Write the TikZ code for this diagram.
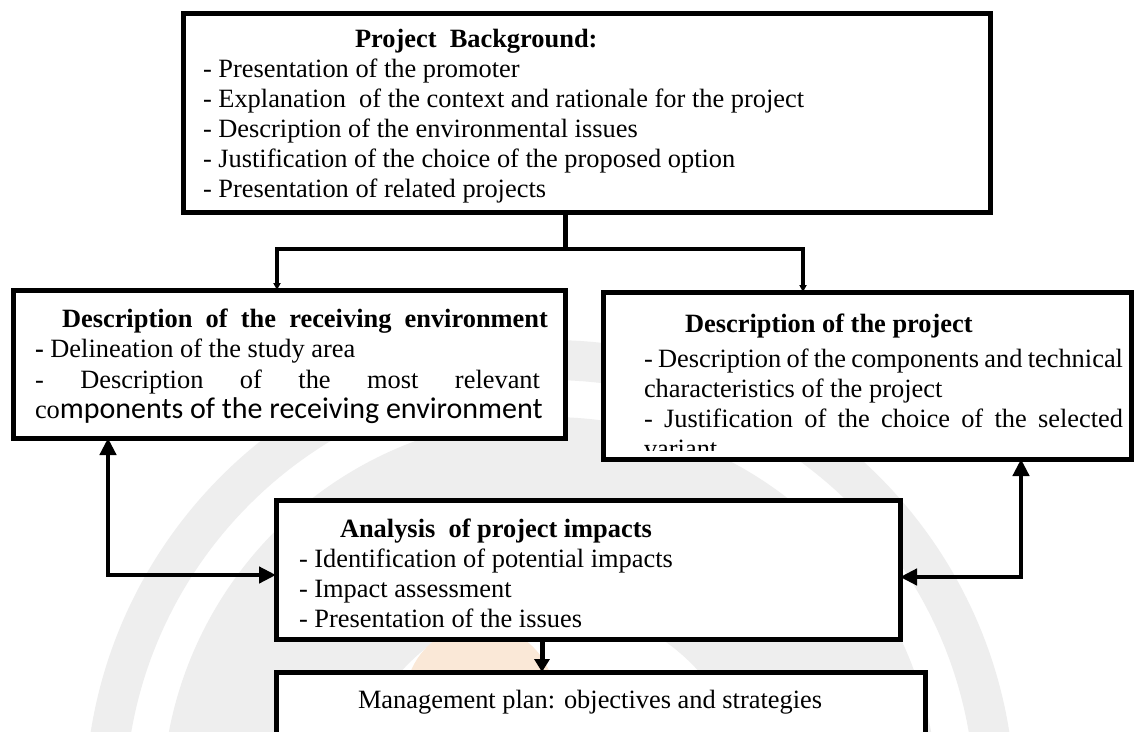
\documentclass[tikz,border=0pt]{standalone}
\usepackage{fontspec}
\setmainfont{Liberation Serif}
\newfontfamily\calibri{Carlito}
\usetikzlibrary{arrows.meta}
\begin{document}
\begin{tikzpicture}[x=1pt,y=-1pt,
  box/.style={draw=black, line width=5pt, fill=white, inner sep=0pt, outer sep=0pt, anchor=north west},
  txt/.style={anchor=base west, inner sep=0pt, outer sep=0pt, font=\fontsize{26.4}{30}\selectfont},
  ttl/.style={txt, font=\fontsize{26.4}{30}\selectfont\bfseries},
  bigarrow/.style={line width=4.5pt, {Triangle[length=17pt,width=16pt]}-{Triangle[length=17pt,width=16pt]}},
  downarrow/.style={line width=5pt, -{Triangle[length=13pt,width=15pt]}},
  stemline/.style={line width=5pt},
  branch/.style={line width=3.2pt, -{Triangle[length=7pt,width=7pt]}},
  wmark/.style={fill=gray!13},
  wpeach/.style={fill={rgb,255:red,250;green,232;blue,215}}
]
\clip (0,0) rectangle (1135,731);
\fill[white] (0,0) rectangle (1135,731);
% watermark
\fill[wmark, even odd rule] (550,805) circle[radius=465pt] (550,805) circle[radius=425pt];
\fill[wmark, even odd rule] (550,805) circle[radius=388pt] (550,805) circle[radius=200pt];
\fill[wpeach] (480,700) circle[radius=75pt];

% boxes
\node[box, minimum width=807pt, minimum height=199pt] (top) at (183,13) {};
\node[box, minimum width=552pt, minimum height=148pt] (lbox) at (13,290) {};
\node[box, minimum width=528pt, minimum height=167pt] (rbox) at (603,292) {};
\node[box, minimum width=624pt, minimum height=139pt] (ana) at (276,500) {};
\node[box, minimum width=649pt, minimum height=100pt] (mgmt) at (276,672) {};

% top box text
\node[ttl] (t0) at (355,47) {Project\ \ Background:};
\node[txt] (t1) at (203,77) {- Presentation of the promoter};
\node[txt] (t2) at (203,107) {- Explanation\ \ of the context and rationale for the project};
\node[txt] (t3) at (203,137) {- Description of the environmental issues};
\node[txt] (t4) at (203,167) {- Justification of the choice of the proposed option};
\begin{scope}
\clip (183,13) rectangle (990,203);
\node[txt] (t5) at (203,197) {- Presentation of related projects};
\end{scope}

% left box text
\node[ttl] (l0) at (62,327) {Description\ \ of\ \ the\ \ receiving\ \ environment};
\node[txt] (l1) at (35,357) {\textbf{-} Delineation of the study area};
\node[txt] (l2) at (35,388) {\makebox[505pt][s]{- Description of the most relevant}};
\node[txt] (l3) at (35,418) {co{\calibri\fontsize{30}{30}\selectfont mponents of the receiving environment}};

% right box text
\node[ttl] (r0) at (685,332) {Description of the project};
\node[txt] (r1) at (644,367) {\makebox[479pt][s]{- Description of the components and technical}};
\node[txt] (r2) at (644,397) {characteristics of the project};
\node[txt] (r3) at (644,427) {\makebox[479pt][s]{- Justification of the choice of the selected}};
\begin{scope}
\clip (603,292) rectangle (1131,450);
\node[txt] (r4) at (644,457) {variant};
\end{scope}

% analysis box text
\node[ttl] (a0) at (340,537) {Analysis\ \ of\ project\ impacts};
\node[txt] (a1) at (299,567) {- Identification of potential impacts};
\node[txt] (a2) at (299,597) {- Impact assessment};
\node[txt] (a3) at (299,627) {- Presentation of the issues};

% management box text
\node[txt] (m0) at (358,708) {Management plan: objectives and strategies};

% connectors
\coordinate (j) at (565,249);
\coordinate (jl) at (277,249);
\coordinate (jr) at (803,249);
\draw[stemline] (j |- top.south) -- (j);
\draw[branch] (j) -- (jl) -- (jl |- lbox.north);
\draw[branch] (j) -- (jr) -- (jr |- rbox.north);

\coordinate (lc) at (108,575);
\draw[bigarrow] (lc |- lbox.south) -- (lc) -- (ana.west |- lc);
\coordinate (rc) at (1021,577);
\draw[bigarrow] (rc |- rbox.south) -- (rc) -- (ana.east |- rc);

\coordinate (dc) at (542,0);
\draw[downarrow] (dc |- ana.south) -- (dc |- mgmt.north);
\end{tikzpicture}
\end{document}
